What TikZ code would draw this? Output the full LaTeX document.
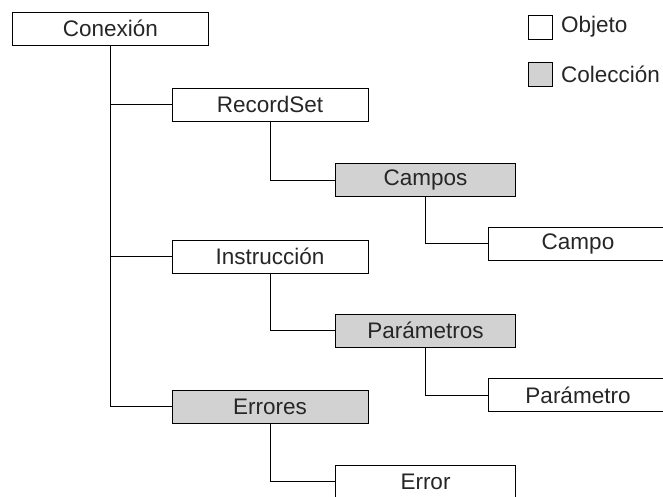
\documentclass[tikz,border=0pt]{standalone}
\usepackage{fontspec}
\setmainfont{Liberation Sans}
\usepackage{tikz}
\usetikzlibrary{positioning}
\tikzset{
  obj/.style={draw,fill=#1,minimum height=33pt,inner sep=0pt,font=\fontsize{22.5}{25}\selectfont,text=black!85},
  obj/.default={white},
  wide/.style={minimum width=196pt},
  narrow/.style={minimum width=180pt},
  key/.style={draw,fill=#1,minimum size=24pt,inner sep=0pt},
  lbl/.style={font=\fontsize{22.5}{25}\selectfont,text=black!85,inner sep=0pt,anchor=west},
}
\colorlet{coll}{gray!35}
\begin{document}
\begin{tikzpicture}[x=1pt,y=-1pt,line width=1pt]
 \clip (0,0) rectangle (663,496);
 \fill[white] (0,0) rectangle (663,496);
 % tree
 \node[obj,wide] (con) at (110.5,28.5) {Conexión};
 \node[obj,wide] (rs) at (270,104.5) {RecordSet};
 \node[obj=coll,narrow] (cps) at (425.5,180) {Campos};
 \node[obj,narrow] (cpo) at (578,243.5) {Campo};
 \node[obj,wide] (ins) at (270,256.5) {Instrucción};
 \node[obj=coll,narrow] (pars) at (425.5,330.5) {Parámetros};
 \node[obj,narrow] (par) at (578,395) {Parámetro};
 \node[obj=coll,wide] (errs) at (270,406.5) {Errores};
 \node[obj,narrow] (err) at (425.5,481.5) {Error};
 \foreach \a/\b in {con/rs,con/ins,con/errs,rs/cps,cps/cpo,ins/pars,pars/par,errs/err}
   \draw (\a.south) |- (\b.west);
 % legend
 \node[key=white] (kobj) at (540,27) {};
 \node[lbl,right=8pt of kobj] (tobj) {Objeto};
 \node[key=coll] (kcol) at (540,74) {};
 \node[lbl,right=8pt of kcol] (tcol) {Colección};
\end{tikzpicture}
\end{document}
